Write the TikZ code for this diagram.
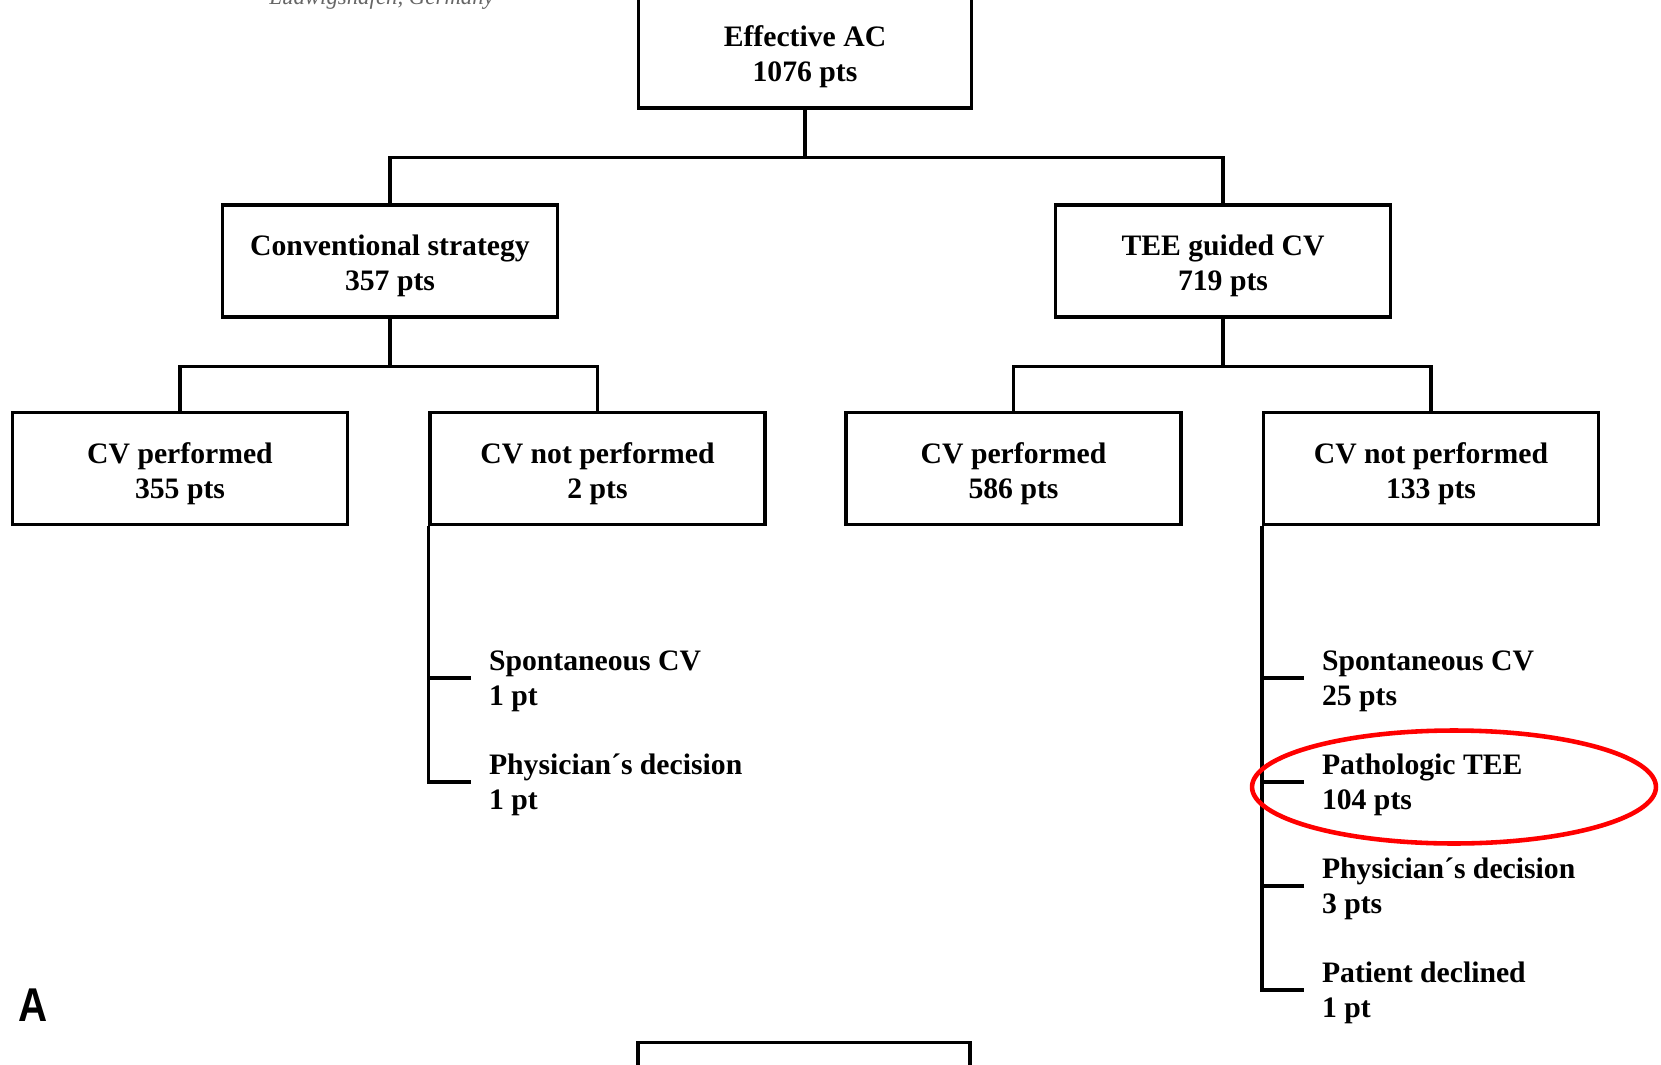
\documentclass[tikz,border=0pt]{standalone}
\usepackage{fontspec}
\setmainfont{Liberation Serif}
\setsansfont{Liberation Sans}
\usepackage{pgf, tikz}
\usetikzlibrary{positioning}

\begin{document}
\begin{tikzpicture}[
            x = 0.02cm,
            y = -0.02cm,
            semithick,
            node distance = 2.08cm
        ]

        \tikzstyle{box}=[
            draw = black,
            line width = 1.8pt,
            minimum width = 6.7cm,
            minimum height = 2.24cm,
            align = center,
            text height = 37.6pt,
            text depth = 3.7pt,
            font = \fontsize{16.9}{19.9}\selectfont\bfseries
        ]
        \tikzstyle{leaf}=[
            anchor = west,
            align = left,
            inner xsep = 0.35cm,
            inner ysep = 0pt,
            text height = 35.2pt,
            text depth = 3.7pt,
            font = \fontsize{16.9}{19.9}\selectfont\bfseries
        ]
        \tikzset{branch/.style={line width=1.8pt}}

        \useasboundingbox (0,0) rectangle (1661,1065);

        \node[anchor=base west, font=\fontsize{13}{15}\selectfont\itshape, text=black!60] (place) at (263,4) {Ludwigshafen, Germany};

        \node[box, minimum width=6.66cm] (eff) at (805,52) {Effective AC\\1076 pts};
        \node[box] (conv) at (390,261) {Conventional strategy\\357 pts};
        \node[box] (tee) at (1223,261) {TEE guided CV\\719 pts};

        \node[box] (cvp1) at (180,468.5) {CV performed\\355 pts};
        \node[box] (cvn1) at (597.5,468.5) {CV not performed\\2 pts};
        \node[box] (cvp2) at (1013.5,468.5) {CV performed\\586 pts};
        \node[box] (cvn2) at (1431,468.5) {CV not performed\\133 pts};

        % reasons
        \node[leaf] (spont1) at (471,678) {Spontaneous CV\\1 pt};
        \node[leaf] (phys1) [below=of spont1.west, anchor=west] {Physician´s decision\\1 pt};

        \node[leaf] (spont2) at (1304,678) {Spontaneous CV\\25 pts};
        \node[leaf] (patho2) [below=of spont2.west, anchor=west] {Pathologic TEE\\104 pts};
        \node[leaf] (phys2) [below=of patho2.west, anchor=west] {Physician´s decision\\3 pts};
        \node[leaf] (decl2) [below=of phys2.west, anchor=west] {Patient declined\\1 pt};

        \node[box, anchor=north, minimum width=6.64cm] (next) at (804,1041) {};
        \node[font=\fontsize{27}{27}\selectfont\sffamily\bfseries, inner sep=0pt, xscale=0.85] (panel) at (33,1005) {A};

        \draw[branch] (eff.south) -- ++(0,48) coordinate (j0);
        \draw[branch] (conv.north) |- (j0) -| (tee.north);
        \draw[branch] (conv.south) -- ++(0,48) coordinate (j1);
        \draw[branch] (cvp1.north) |- (j1) -| (cvn1.north);
        \draw[branch] (tee.south) -- ++(0,48) coordinate (j2);
        \draw[branch] (cvp2.north) |- (j2) -| (cvn2.north);

        \draw[branch] (cvn1.south west) |- (phys1.west);
        \draw[branch] (spont1.west) -- (spont1.west -| cvn1.south west);

        \draw[branch] (cvn2.south west) |- (decl2.west);
        \foreach \r in {spont2, patho2, phys2}
            \draw[branch] (\r.west) -- (\r.west -| cvn2.south west);

        % highlight
        \draw[red, line width=2.6pt] (1454,787) ellipse [x radius=4.04cm, y radius=1.13cm];

    \end{tikzpicture}
\end{document}
